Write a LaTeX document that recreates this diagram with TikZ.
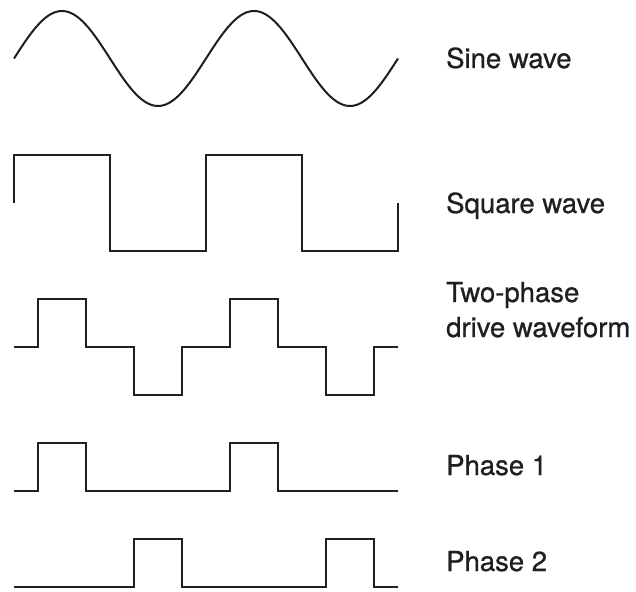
\documentclass[tikz,border=0pt]{standalone}
\usepackage{fontspec}
\setmainfont{TeX Gyre Heros}[FakeBold=0.8]
\begin{document}
\begin{tikzpicture}[x=1pt,y=-1pt,
  wave/.style={line width=2pt, draw=black!88, line join=miter},
  lbl/.style={anchor=base west, inner sep=0pt, text=black!88, font=\fontsize{27.5}{35}\selectfont, align=left}]
\useasboundingbox (0,0) rectangle (636,591);
% Sine wave
\draw[wave] plot[domain=0:384, samples=193, smooth] ({14+\x},{58.5-47.5*sin(1.875*\x)});
% Square wave
\draw[wave] (14,203) -- (14,155) -- (110,155) -- (110,250.5) -- (206,250.5) -- (206,155) -- (302,155) -- (302,250.5) -- (398,250.5) -- (398,203);
% Two-phase drive waveform
\draw[wave] (14,347) -- (38,347) -- (38,299) -- (86,299) -- (86,347) -- (134,347) -- (134,395) -- (182,395) -- (182,347) -- (230,347) -- (230,299) -- (278,299) -- (278,347) -- (326,347) -- (326,395) -- (374,395) -- (374,347) -- (398,347);
% Phase 1
\draw[wave] (14,491) -- (38,491) -- (38,443) -- (86,443) -- (86,491) -- (230,491) -- (230,443) -- (278,443) -- (278,491) -- (398,491);
% Phase 2
\draw[wave] (14,587) -- (134,587) -- (134,539) -- (182,539) -- (182,587) -- (326,587) -- (326,539) -- (374,539) -- (374,587) -- (398,587);
% Labels
\node[lbl] (sine) at (446,68) {Sine wave};
\node[lbl] (square) at (446,213) {Square wave};
\node[lbl] (twophase) at (446,337) {Two-phase\\drive waveform};
\node[lbl] (ph1) at (446,475) {Phase 1};
\node[lbl] (ph2) at (446,571) {Phase 2};
\end{tikzpicture}
\end{document}
